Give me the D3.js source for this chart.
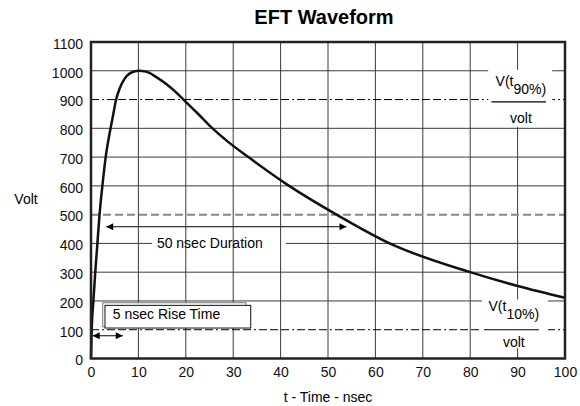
<!DOCTYPE html>
<html>
<head>
<meta charset="utf-8">
<script src="https://cdn.jsdelivr.net/npm/d3@7"></script>
<style>
  body { margin: 0; background: #fff; }
  text { font-family: Arial, "Liberation Sans", sans-serif; }
</style>
</head>
<body>
<div id="chart"></div>
<script>
// waveform (t in nsec, volts)
var timeNs = [0, 0.15, 0.5, 0.9, 1.35, 1.8, 2.4, 3.1, 3.9, 4.6, 5.3, 6, 7, 8.1, 10, 11.6, 13.7, 15.8, 17.9, 19.5, 22.3, 25.3, 29, 33.2, 41.8, 51.8, 63, 80, 90, 100];
var volts  = [0, 100, 200, 300, 400, 500, 600, 700, 780, 840, 900, 936, 970, 990, 1000, 997, 979, 955, 926, 900, 855, 805, 752, 700, 600, 500, 400, 300, 252, 211];

var xTicks = [0, 10, 20, 30, 40, 50, 60, 70, 80, 90, 100];
var yTicks = [0, 100, 200, 300, 400, 500, 600, 700, 800, 900, 1000, 1100];

// reference levels
var level90 = 900, level10 = 100, level50 = 500;

// annotations (data units)
var durationArrow = [3.2, 53.9, 458];   // t0, t1, volt
var riseArrow = [0.35, 6.7, 79];
var durationLabel = "50 nsec Duration";
var riseLabel = "5 nsec Rise Time";

var W = 580, H = 406;
var margin = { top: 42, right: 15, bottom: 47.5, left: 91 };
var width = W - margin.left - margin.right,
    height = H - margin.top - margin.bottom;

var svg = d3.select("#chart").append("svg")
    .attr("width", W)
    .attr("height", H);

var defs = svg.append("defs");
defs.append("marker")
    .attr("id", "arrow")
    .attr("viewBox", "0 0 10 10")
    .attr("refX", 10).attr("refY", 5)
    .attr("markerWidth", 9).attr("markerHeight", 7)
    .attr("markerUnits", "userSpaceOnUse")
    .attr("orient", "auto-start-reverse")
  .append("path")
    .attr("d", "M0,0 L10,5 L0,10 z")
    .attr("fill", "#000");

svg.append("text")
    .attr("x", 324).attr("y", 24)
    .attr("text-anchor", "middle")
    .style("font-size", "20px")
    .style("font-weight", "bold")
    .text("EFT Waveform");

var g = svg.append("g")
    .attr("transform", "translate(" + margin.left + "," + margin.top + ")");

var x = d3.scaleLinear().domain([0, 100]).range([0, width]);
var y = d3.scaleLinear().domain([0, 1100]).range([height, 0]);

var gridColor = "#3a3a3a";

// horizontal grid
g.selectAll(".hgrid")
    .data(yTicks.filter(function(d) { return d > 0 && d < 1100 && d != level90 && d != level10 && d != level50; }))
    .enter().append("line")
    .attr("class", "hgrid")
    .attr("x1", 0).attr("x2", width)
    .attr("y1", function(d) { return y(d); })
    .attr("y2", function(d) { return y(d); })
    .attr("stroke", gridColor).attr("stroke-width", 1);

// white gap in the 400 line behind the duration text
g.append("rect")
    .attr("x", x(12.9)).attr("width", x(41.1) - x(12.9))
    .attr("y", y(425)).attr("height", y(373) - y(425))
    .attr("fill", "#fff");

// vertical grid
g.selectAll(".vgrid")
    .data(xTicks.filter(function(d) { return d > 0 && d < 100; }))
    .enter().append("line")
    .attr("class", "vgrid")
    .attr("y1", 0).attr("y2", height)
    .attr("x1", function(d) { return x(d); })
    .attr("x2", function(d) { return x(d); })
    .attr("stroke", gridColor).attr("stroke-width", 1);

// 90% and 10% dash-dot lines, 50% dashed
g.selectAll(".ref")
    .data([level90, level10])
    .enter().append("line")
    .attr("x1", 0).attr("x2", width)
    .attr("y1", function(d) { return y(d); })
    .attr("y2", function(d) { return y(d); })
    .attr("stroke", "#000").attr("stroke-width", 1)
    .attr("stroke-dasharray", "8,3,2,3,8,3,8,3");

g.append("line")
    .attr("x1", 0).attr("x2", width)
    .attr("y1", y(level50)).attr("y2", y(level50))
    .attr("stroke", "#888").attr("stroke-width", 2)
    .attr("stroke-dasharray", "8,4");

// fraction labels V(t90%)/volt and V(t10%)/volt
var fracLabels = [
  { sub: "90%", cx: 90.7, top: 1003, bottom: 805, t0: 83.8, t1: 97.3, base: 946, line: 892, lx0: 84.5, lx1: 96, vb: 817 },
  { sub: "10%", cx: 89.2, top: 205, bottom: 36, t0: 82.5, t1: 96.4, base: 166, line: 100, lx0: 82.9, lx1: 94.5, vb: 40 }
];
var fl = g.selectAll(".frac").data(fracLabels).enter().append("g");
fl.append("rect")
    .attr("x", function(d) { return x(d.t0); })
    .attr("width", function(d) { return x(d.t1) - x(d.t0); })
    .attr("y", function(d) { return y(d.top); })
    .attr("height", function(d) { return y(d.bottom) - y(d.top); })
    .attr("fill", "#fff");
var ft = fl.append("text")
    .attr("x", function(d) { return x(d.cx); })
    .attr("y", function(d) { return y(d.base); })
    .attr("text-anchor", "middle")
    .style("font-size", "14px");
ft.append("tspan").text("V(t");
ft.append("tspan").attr("dy", 8).text(function(d) { return d.sub; });
ft.append("tspan").text(")");
fl.append("line")
    .attr("x1", function(d) { return x(d.lx0); })
    .attr("x2", function(d) { return x(d.lx1); })
    .attr("y1", function(d) { return y(d.line); })
    .attr("y2", function(d) { return y(d.line); })
    .attr("stroke", "#000").attr("stroke-width", 1.2);
fl.append("text")
    .attr("x", function(d) { return x(d.cx); })
    .attr("y", function(d) { return y(d.vb); })
    .attr("text-anchor", "middle")
    .style("font-size", "14px")
    .text("volt");

// duration text
g.append("text")
    .attr("x", x(13.9)).attr("y", y(400)).attr("dy", "0.35em")
    .style("font-size", "14px")
    .text(durationLabel);

// rise time box with shadow frame
g.append("rect")
    .attr("x", x(2.47)).attr("width", x(32.7) - x(2.47))
    .attr("y", y(193.8)).attr("height", y(110.4) - y(193.8))
    .attr("fill", "#fff").attr("stroke", "#777").attr("stroke-width", 1);
g.append("rect")
    .attr("x", x(2.95)).attr("width", x(33.7) - x(2.95))
    .attr("y", y(184.7)).attr("height", y(105.9) - y(184.7))
    .attr("fill", "#fff").attr("stroke", "#111").attr("stroke-width", 1);
g.append("text")
    .attr("x", x(4.6)).attr("y", y(136))
    .style("font-size", "14px")
    .text(riseLabel);

// arrows
g.selectAll(".arrow")
    .data([durationArrow, riseArrow])
    .enter().append("line")
    .attr("x1", function(d) { return x(d[0]); })
    .attr("x2", function(d) { return x(d[1]); })
    .attr("y1", function(d) { return y(d[2]); })
    .attr("y2", function(d) { return y(d[2]); })
    .attr("stroke", "#000").attr("stroke-width", 1)
    .attr("marker-start", "url(#arrow)")
    .attr("marker-end", "url(#arrow)");

// waveform
var pts = timeNs.map(function(t, i) { return [t, volts[i]]; });
var line = d3.line()
    .x(function(d) { return x(d[0]); })
    .y(function(d) { return y(d[1]); })
    .curve(d3.curveMonotoneX);
g.append("path")
    .datum(pts)
    .attr("d", line)
    .attr("fill", "none")
    .attr("stroke", "#111")
    .attr("stroke-width", 2.5);

// frame
g.append("rect")
    .attr("x", 0).attr("y", 0)
    .attr("width", width).attr("height", height)
    .attr("fill", "none")
    .attr("stroke", "#222").attr("stroke-width", 2.5);

// axes
var xAxis = g.append("g")
    .attr("transform", "translate(0," + height + ")")
    .call(d3.axisBottom(x).tickValues(xTicks).tickSize(0).tickPadding(9).tickFormat(d3.format("d")));
var yAxis = g.append("g")
    .call(d3.axisLeft(y).tickValues(yTicks).tickSize(0).tickPadding(8).tickFormat(d3.format("d")));
[xAxis, yAxis].forEach(function(a) {
  a.select(".domain").remove();
  a.selectAll("text").style("font-size", "14px").style("font-family", "Arial, 'Liberation Sans', sans-serif").attr("fill", "#111");
});
yAxis.selectAll("text").attr("dy", "0.45em");

svg.append("text")
    .attr("x", 26).attr("y", 204)
    .attr("text-anchor", "middle")
    .style("font-size", "14px")
    .text("Volt");

svg.append("text")
    .attr("x", 328).attr("y", 402)
    .attr("text-anchor", "middle")
    .style("font-size", "14px")
    .text("t - Time - nsec");
</script>
</body>
</html>
